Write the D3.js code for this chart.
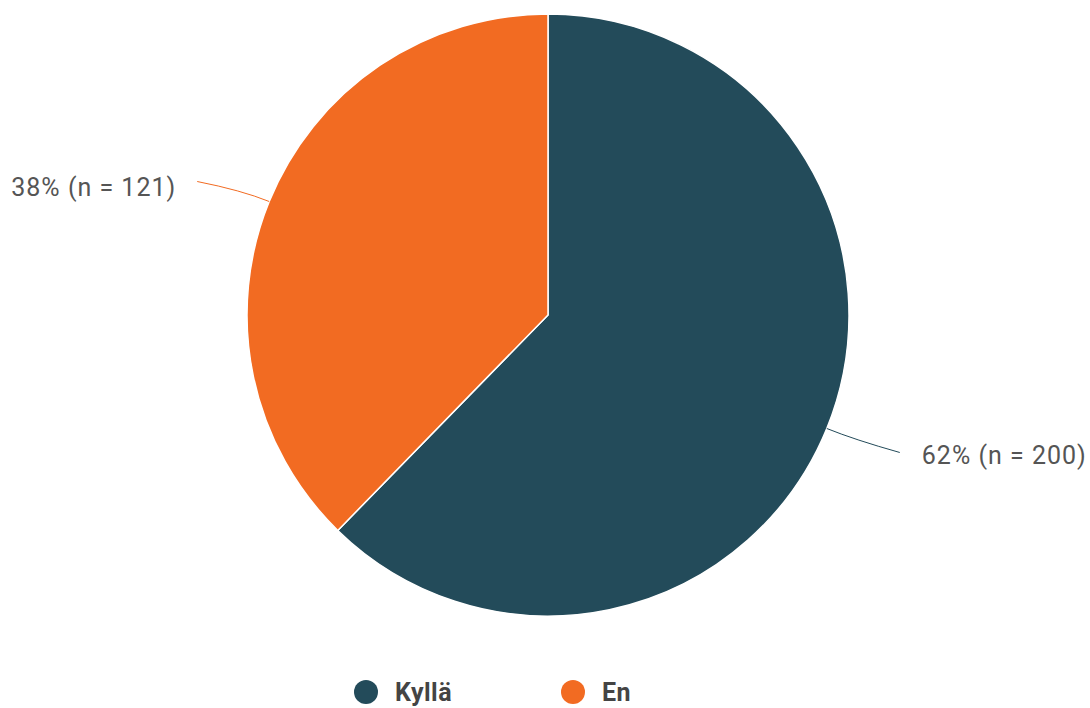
<!DOCTYPE html>
<html>
<head>
<meta charset="utf-8">
<script src="https://cdn.jsdelivr.net/npm/d3@7"></script>
<style>
  body { margin: 0; background: #fff; }
  text { font-family: Roboto, "Liberation Sans", Arial, sans-serif; }
</style>
</head>
<body>
<div id="chart"></div>
<script>
// Data
const categories = ["Kyllä", "En"];
const counts = [200, 121];
const percents = [62, 38];
const colors = ["#234b5a", "#f26b22"];

const width = 1090, height = 708;
const cx = 548, cy = 315, radius = 301;

const svg = d3.select("#chart")
  .append("svg")
    .attr("width", width)
    .attr("height", height);

const data = categories.map((c, i) => ({ name: c, n: counts[i], pct: percents[i], color: colors[i] }));

const pie = d3.pie()
  .sort(null)
  .value(d => d.n);

const arc = d3.arc()
  .innerRadius(0)
  .outerRadius(radius);

const arcs = pie(data);

const g = svg.append("g")
  .attr("transform", `translate(${cx},${cy})`);

g.selectAll("path.slice")
  .data(arcs)
  .enter().append("path")
    .attr("class", "slice")
    .attr("d", arc)
    .attr("fill", d => d.data.color)
    .attr("stroke", "#fff")
    .attr("stroke-width", 1.5);

// connector lines + labels
arcs.forEach(d => {
  const mid = (d.startAngle + d.endAngle) / 2;
  const sx = Math.sin(mid), sy = -Math.cos(mid);
  const p0 = [sx * radius, sy * radius];
  const right = sx > 0;
  const end = [sx * radius + (right ? 73 : -72), sy * radius + (right ? 24 : -20)];
  const ctrl = [sx * (radius + 30), sy * (radius + 30)];
  g.append("path")
    .attr("d", `M${p0[0]},${p0[1]} Q${ctrl[0]},${ctrl[1]} ${end[0]},${end[1]}`)
    .attr("fill", "none")
    .attr("stroke", d.data.color)
    .attr("stroke-width", 1);
  g.append("text")
    .attr("x", end[0] + (right ? 22 : -21))
    .attr("y", end[1] + (right ? 12 : 14))
    .attr("text-anchor", right ? "start" : "end")
    .attr("font-size", "25px")
    .attr("letter-spacing", "1px")
    .attr("fill", "#555")
    .text(`${d.data.pct}% (n = ${d.data.n})`);
});

// legend
const legendX = [366, 573];
const legend = svg.append("g");
data.forEach((d, i) => {
  legend.append("circle")
    .attr("cx", legendX[i])
    .attr("cy", 692)
    .attr("r", 12)
    .attr("fill", d.color);
  legend.append("text")
    .attr("x", legendX[i] + 29)
    .attr("y", 701)
    .attr("font-size", "25px")
    .attr("font-weight", "bold")
    .attr("letter-spacing", "0.5px")
    .attr("fill", "#444")
    .text(d.name);
});
</script>
</body>
</html>
